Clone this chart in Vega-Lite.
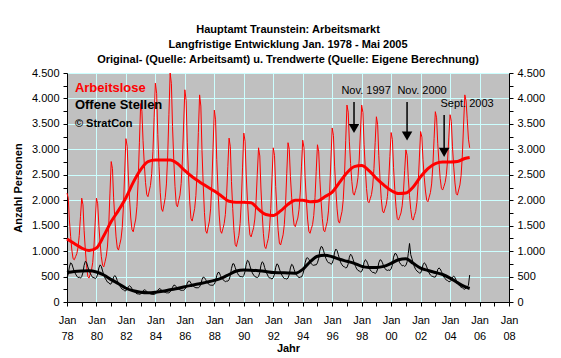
{
"$schema": "https://vega.github.io/schema/vega-lite/v6.json",
"width": 442, "height": 229,
"autosize": "none",
"padding": {"left": 67, "top": 73, "right": 52, "bottom": 56},
"background": "white",
"config": {"font": "Liberation Sans", "view": {"fill": "#C0C0C0", "stroke": "#808080", "strokeWidth": 1}},
"title": {"text": ["Hauptamt Traunstein: Arbeitsmarkt", "Langfristige Entwicklung Jan. 1978 - Mai 2005", "Original- (Quelle: Arbeitsamt) u. Trendwerte (Quelle: Eigene Berechnung)"], "fontSize": 11, "fontWeight": "bold", "lineHeight": 15, "anchor": "middle", "offset": 2, "color": "black"},
"datasets": {
"raw": [
{"date":"1978-01","a":2140,"o":480},{"date":"1978-02","a":2040,"o":550},{"date":"1978-03","a":1610,"o":690},{"date":"1978-04","a":1290,"o":770},{"date":"1978-05","a":1020,"o":750},{"date":"1978-06","a":850,"o":670},{"date":"1978-07","a":830,"o":600},{"date":"1978-08","a":890,"o":550},{"date":"1978-09","a":950,"o":510},{"date":"1978-10","a":1070,"o":480},{"date":"1978-11","a":1310,"o":490},{"date":"1978-12","a":1680,"o":470},
{"date":"1979-01","a":2040,"o":500},{"date":"1979-02","a":1910,"o":580},{"date":"1979-03","a":1410,"o":720},{"date":"1979-04","a":1020,"o":800},{"date":"1979-05","a":710,"o":780},{"date":"1979-06","a":500,"o":690},{"date":"1979-07","a":470,"o":620},{"date":"1979-08","a":550,"o":560},{"date":"1979-09","a":630,"o":520},{"date":"1979-10","a":780,"o":480},{"date":"1979-11","a":1100,"o":480},{"date":"1979-12","a":1570,"o":460},
{"date":"1980-01","a":2040,"o":480},{"date":"1980-02","a":1930,"o":550},{"date":"1980-03","a":1500,"o":670},{"date":"1980-04","a":1160,"o":730},{"date":"1980-05","a":890,"o":700},{"date":"1980-06","a":720,"o":610},{"date":"1980-07","a":690,"o":530},{"date":"1980-08","a":790,"o":470},{"date":"1980-09","a":900,"o":430},{"date":"1980-10","a":1100,"o":390},{"date":"1980-11","a":1520,"o":380},{"date":"1980-12","a":2140,"o":350},
{"date":"1981-01","a":2760,"o":360},{"date":"1981-02","a":2620,"o":410},{"date":"1981-03","a":2060,"o":490},{"date":"1981-04","a":1630,"o":520},{"date":"1981-05","a":1280,"o":490},{"date":"1981-06","a":1060,"o":420},{"date":"1981-07","a":1020,"o":360},{"date":"1981-08","a":1130,"o":320},{"date":"1981-09","a":1240,"o":280},{"date":"1981-10","a":1460,"o":250},{"date":"1981-11","a":1900,"o":240},{"date":"1981-12","a":2550,"o":220},
{"date":"1982-01","a":3210,"o":220},{"date":"1982-02","a":3060,"o":250},{"date":"1982-03","a":2480,"o":300},{"date":"1982-04","a":2020,"o":320},{"date":"1982-05","a":1650,"o":300},{"date":"1982-06","a":1420,"o":260},{"date":"1982-07","a":1380,"o":220},{"date":"1982-08","a":1510,"o":200},{"date":"1982-09","a":1630,"o":180},{"date":"1982-10","a":1880,"o":160},{"date":"1982-11","a":2390,"o":160},{"date":"1982-12","a":3140,"o":150},
{"date":"1983-01","a":3900,"o":160},{"date":"1983-02","a":3750,"o":180},{"date":"1983-03","a":3170,"o":220},{"date":"1983-04","a":2710,"o":240},{"date":"1983-05","a":2350,"o":230},{"date":"1983-06","a":2110,"o":210},{"date":"1983-07","a":2070,"o":180},{"date":"1983-08","a":2180,"o":170},{"date":"1983-09","a":2290,"o":160},{"date":"1983-10","a":2520,"o":150},{"date":"1983-11","a":2960,"o":150},{"date":"1983-12","a":3630,"o":150},
{"date":"1984-01","a":4300,"o":160},{"date":"1984-02","a":4100,"o":180},{"date":"1984-03","a":3290,"o":230},{"date":"1984-04","a":2660,"o":260},{"date":"1984-05","a":2150,"o":260},{"date":"1984-06","a":1830,"o":230},{"date":"1984-07","a":1780,"o":210},{"date":"1984-08","a":1910,"o":200},{"date":"1984-09","a":2050,"o":190},{"date":"1984-10","a":2320,"o":180},{"date":"1984-11","a":2870,"o":180},{"date":"1984-12","a":3680,"o":180},
{"date":"1985-01","a":4500,"o":200},{"date":"1985-02","a":4290,"o":230},{"date":"1985-03","a":3450,"o":290},{"date":"1985-04","a":2790,"o":330},{"date":"1985-05","a":2270,"o":330},{"date":"1985-06","a":1920,"o":300},{"date":"1985-07","a":1870,"o":270},{"date":"1985-08","a":1990,"o":250},{"date":"1985-09","a":2100,"o":240},{"date":"1985-10","a":2330,"o":230},{"date":"1985-11","a":2790,"o":230},{"date":"1985-12","a":3480,"o":230},
{"date":"1986-01","a":4170,"o":250},{"date":"1986-02","a":3960,"o":290},{"date":"1986-03","a":3140,"o":370},{"date":"1986-04","a":2490,"o":410},{"date":"1986-05","a":1980,"o":410},{"date":"1986-06","a":1640,"o":370},{"date":"1986-07","a":1590,"o":330},{"date":"1986-08","a":1710,"o":310},{"date":"1986-09","a":1840,"o":290},{"date":"1986-10","a":2090,"o":280},{"date":"1986-11","a":2580,"o":280},{"date":"1986-12","a":3330,"o":280},
{"date":"1987-01","a":4070,"o":300},{"date":"1987-02","a":3850,"o":350},{"date":"1987-03","a":2980,"o":440},{"date":"1987-04","a":2300,"o":490},{"date":"1987-05","a":1760,"o":480},{"date":"1987-06","a":1400,"o":440},{"date":"1987-07","a":1350,"o":390},{"date":"1987-08","a":1470,"o":360},{"date":"1987-09","a":1590,"o":340},{"date":"1987-10","a":1830,"o":330},{"date":"1987-11","a":2320,"o":330},{"date":"1987-12","a":3040,"o":330},
{"date":"1988-01","a":3770,"o":350},{"date":"1988-02","a":3580,"o":410},{"date":"1988-03","a":2800,"o":520},{"date":"1988-04","a":2200,"o":580},{"date":"1988-05","a":1710,"o":580},{"date":"1988-06","a":1400,"o":520},{"date":"1988-07","a":1350,"o":470},{"date":"1988-08","a":1440,"o":440},{"date":"1988-09","a":1540,"o":420},{"date":"1988-10","a":1720,"o":400},{"date":"1988-11","a":2100,"o":410},{"date":"1988-12","a":2660,"o":410},
{"date":"1989-01","a":3220,"o":440},{"date":"1989-02","a":3050,"o":520},{"date":"1989-03","a":2370,"o":660},{"date":"1989-04","a":1840,"o":750},{"date":"1989-05","a":1410,"o":750},{"date":"1989-06","a":1130,"o":680},{"date":"1989-07","a":1090,"o":610},{"date":"1989-08","a":1200,"o":560},{"date":"1989-09","a":1310,"o":520},{"date":"1989-10","a":1540,"o":500},{"date":"1989-11","a":1980,"o":500},{"date":"1989-12","a":2650,"o":490},
{"date":"1990-01","a":3320,"o":520},{"date":"1990-02","a":3160,"o":600},{"date":"1990-03","a":2500,"o":740},{"date":"1990-04","a":1990,"o":820},{"date":"1990-05","a":1590,"o":800},{"date":"1990-06","a":1320,"o":710},{"date":"1990-07","a":1280,"o":630},{"date":"1990-08","a":1370,"o":570},{"date":"1990-09","a":1460,"o":530},{"date":"1990-10","a":1630,"o":500},{"date":"1990-11","a":1980,"o":490},{"date":"1990-12","a":2510,"o":480},
{"date":"1991-01","a":3030,"o":500},{"date":"1991-02","a":2870,"o":580},{"date":"1991-03","a":2240,"o":720},{"date":"1991-04","a":1740,"o":790},{"date":"1991-05","a":1350,"o":770},{"date":"1991-06","a":1090,"o":680},{"date":"1991-07","a":1050,"o":600},{"date":"1991-08","a":1150,"o":550},{"date":"1991-09","a":1250,"o":500},{"date":"1991-10","a":1450,"o":470},{"date":"1991-11","a":1840,"o":470},{"date":"1991-12","a":2440,"o":450},
{"date":"1992-01","a":3030,"o":480},{"date":"1992-02","a":2880,"o":550},{"date":"1992-03","a":2270,"o":680},{"date":"1992-04","a":1790,"o":750},{"date":"1992-05","a":1410,"o":730},{"date":"1992-06","a":1160,"o":650},{"date":"1992-07","a":1120,"o":580},{"date":"1992-08","a":1220,"o":530},{"date":"1992-09","a":1320,"o":490},{"date":"1992-10","a":1520,"o":460},{"date":"1992-11","a":1920,"o":460},{"date":"1992-12","a":2530,"o":450},
{"date":"1993-01","a":3130,"o":470},{"date":"1993-02","a":3000,"o":540},{"date":"1993-03","a":2470,"o":670},{"date":"1993-04","a":2060,"o":740},{"date":"1993-05","a":1730,"o":720},{"date":"1993-06","a":1510,"o":640},{"date":"1993-07","a":1480,"o":570},{"date":"1993-08","a":1570,"o":530},{"date":"1993-09","a":1650,"o":500},{"date":"1993-10","a":1820,"o":480},{"date":"1993-11","a":2160,"o":490},{"date":"1993-12","a":2670,"o":490},
{"date":"1994-01","a":3180,"o":540},{"date":"1994-02","a":3030,"o":630},{"date":"1994-03","a":2450,"o":770},{"date":"1994-04","a":1990,"o":860},{"date":"1994-05","a":1630,"o":870},{"date":"1994-06","a":1390,"o":840},{"date":"1994-07","a":1350,"o":790},{"date":"1994-08","a":1440,"o":750},{"date":"1994-09","a":1520,"o":730},{"date":"1994-10","a":1700,"o":720},{"date":"1994-11","a":2050,"o":730},{"date":"1994-12","a":2570,"o":730},
{"date":"1995-01","a":3090,"o":770},{"date":"1995-02","a":2950,"o":860},{"date":"1995-03","a":2410,"o":1020},{"date":"1995-04","a":1980,"o":1090},{"date":"1995-05","a":1640,"o":1080},{"date":"1995-06","a":1410,"o":1010},{"date":"1995-07","a":1380,"o":920},{"date":"1995-08","a":1480,"o":850},{"date":"1995-09","a":1580,"o":800},{"date":"1995-10","a":1790,"o":770},{"date":"1995-11","a":2200,"o":770},{"date":"1995-12","a":2810,"o":740},
{"date":"1996-01","a":3420,"o":760},{"date":"1996-02","a":3270,"o":840},{"date":"1996-03","a":2670,"o":980},{"date":"1996-04","a":2200,"o":1040},{"date":"1996-05","a":1830,"o":1010},{"date":"1996-06","a":1590,"o":930},{"date":"1996-07","a":1550,"o":840},{"date":"1996-08","a":1670,"o":770},{"date":"1996-09","a":1780,"o":730},{"date":"1996-10","a":2010,"o":700},{"date":"1996-11","a":2480,"o":690},{"date":"1996-12","a":3170,"o":670},
{"date":"1997-01","a":3870,"o":680},{"date":"1997-02","a":3730,"o":750},{"date":"1997-03","a":3160,"o":880},{"date":"1997-04","a":2720,"o":940},{"date":"1997-05","a":2370,"o":910},{"date":"1997-06","a":2140,"o":840},{"date":"1997-07","a":2100,"o":760},{"date":"1997-08","a":2190,"o":700},{"date":"1997-09","a":2280,"o":650},{"date":"1997-10","a":2450,"o":620},{"date":"1997-11","a":2810,"o":610},{"date":"1997-12","a":3340,"o":590},
{"date":"1998-01","a":3870,"o":600},{"date":"1998-02","a":3720,"o":660},{"date":"1998-03","a":3100,"o":780},{"date":"1998-04","a":2620,"o":830},{"date":"1998-05","a":2230,"o":810},{"date":"1998-06","a":1980,"o":750},{"date":"1998-07","a":1950,"o":680},{"date":"1998-08","a":2030,"o":630},{"date":"1998-09","a":2110,"o":600},{"date":"1998-10","a":2280,"o":580},{"date":"1998-11","a":2620,"o":580},{"date":"1998-12","a":3130,"o":560},
{"date":"1999-01","a":3640,"o":580},{"date":"1999-02","a":3490,"o":650},{"date":"1999-03","a":2880,"o":770},{"date":"1999-04","a":2410,"o":830},{"date":"1999-05","a":2030,"o":820},{"date":"1999-06","a":1790,"o":770},{"date":"1999-07","a":1750,"o":700},{"date":"1999-08","a":1830,"o":660},{"date":"1999-09","a":1910,"o":630},{"date":"1999-10","a":2070,"o":620},{"date":"1999-11","a":2380,"o":630},{"date":"1999-12","a":2860,"o":620},
{"date":"2000-01","a":3330,"o":650},{"date":"2000-02","a":3190,"o":730},{"date":"2000-03","a":2640,"o":880},{"date":"2000-04","a":2210,"o":950},{"date":"2000-05","a":1870,"o":950},{"date":"2000-06","a":1640,"o":900},{"date":"2000-07","a":1610,"o":830},{"date":"2000-08","a":1680,"o":770},{"date":"2000-09","a":1750,"o":740},{"date":"2000-10","a":1890,"o":710},{"date":"2000-11","a":2160,"o":720},{"date":"2000-12","a":2580,"o":700},
{"date":"2001-01","a":2990,"o":720},{"date":"2001-02","a":2880,"o":790},{"date":"2001-03","a":2440,"o":950},{"date":"2001-04","a":2090,"o":1150},{"date":"2001-05","a":1820,"o":930},{"date":"2001-06","a":1640,"o":850},{"date":"2001-07","a":1610,"o":760},{"date":"2001-08","a":1700,"o":690},{"date":"2001-09","a":1780,"o":640},{"date":"2001-10","a":1960,"o":610},{"date":"2001-11","a":2310,"o":590},{"date":"2001-12","a":2830,"o":570},
{"date":"2002-01","a":3350,"o":570},{"date":"2002-02","a":3240,"o":630},{"date":"2002-03","a":2800,"o":730},{"date":"2002-04","a":2450,"o":770},{"date":"2002-05","a":2180,"o":750},{"date":"2002-06","a":2000,"o":690},{"date":"2002-07","a":1970,"o":620},{"date":"2002-08","a":2060,"o":570},{"date":"2002-09","a":2150,"o":530},{"date":"2002-10","a":2320,"o":510},{"date":"2002-11","a":2680,"o":500},{"date":"2002-12","a":3210,"o":490},
{"date":"2003-01","a":3740,"o":490},{"date":"2003-02","a":3620,"o":540},{"date":"2003-03","a":3120,"o":640},{"date":"2003-04","a":2740,"o":670},{"date":"2003-05","a":2430,"o":650},{"date":"2003-06","a":2230,"o":600},{"date":"2003-07","a":2200,"o":540},{"date":"2003-08","a":2270,"o":490},{"date":"2003-09","a":2350,"o":460},{"date":"2003-10","a":2500,"o":430},{"date":"2003-11","a":2790,"o":420},{"date":"2003-12","a":3240,"o":400},
{"date":"2004-01","a":3680,"o":400},{"date":"2004-02","a":3550,"o":430},{"date":"2004-03","a":3050,"o":490},{"date":"2004-04","a":2650,"o":510},{"date":"2004-05","a":2340,"o":480},{"date":"2004-06","a":2130,"o":430},{"date":"2004-07","a":2100,"o":380},{"date":"2004-08","a":2200,"o":340},{"date":"2004-09","a":2300,"o":310},{"date":"2004-10","a":2490,"o":290},{"date":"2004-11","a":2890,"o":280},{"date":"2004-12","a":3480,"o":260},
{"date":"2005-01","a":4070,"o":250},{"date":"2005-02","a":3950,"o":280},{"date":"2005-03","a":3600,"o":300},{"date":"2005-04","a":3200,"o":330},{"date":"2005-05","a":3030,"o":530}
],
"trend": [
{"date":"1978-01","a":1240,"o":580},{"date":"1978-07","a":1150,"o":600},{"date":"1979-01","a":1060,"o":610},{"date":"1979-07","a":1010,"o":615},{"date":"1980-01","a":1060,"o":590},{"date":"1980-07","a":1300,"o":530},{"date":"1981-01","a":1580,"o":440},{"date":"1981-07","a":1800,"o":360},{"date":"1982-01","a":2050,"o":270},{"date":"1982-07","a":2350,"o":220},{"date":"1983-01","a":2600,"o":190},{"date":"1983-07","a":2760,"o":180},{"date":"1984-01","a":2790,"o":190},{"date":"1984-07","a":2790,"o":210},{"date":"1985-01","a":2790,"o":240},{"date":"1985-07","a":2720,"o":265},{"date":"1986-01","a":2580,"o":300},{"date":"1986-07","a":2460,"o":330},{"date":"1987-01","a":2360,"o":360},{"date":"1987-07","a":2270,"o":390},{"date":"1988-01","a":2180,"o":425},{"date":"1988-07","a":2080,"o":470},{"date":"1989-01","a":1980,"o":540},{"date":"1989-07","a":1960,"o":610},{"date":"1990-01","a":1960,"o":630},{"date":"1990-07","a":1950,"o":625},{"date":"1991-01","a":1820,"o":615},{"date":"1991-07","a":1720,"o":600},{"date":"1992-01","a":1700,"o":580},{"date":"1992-07","a":1790,"o":575},{"date":"1993-01","a":1920,"o":570},{"date":"1993-07","a":2000,"o":565},{"date":"1994-01","a":2000,"o":640},{"date":"1994-07","a":1970,"o":790},{"date":"1995-01","a":1980,"o":900},{"date":"1995-07","a":2070,"o":920},{"date":"1996-01","a":2160,"o":890},{"date":"1996-07","a":2350,"o":840},{"date":"1997-01","a":2540,"o":800},{"date":"1997-07","a":2660,"o":760},{"date":"1998-01","a":2680,"o":700},{"date":"1998-07","a":2580,"o":680},{"date":"1999-01","a":2430,"o":680},{"date":"1999-07","a":2300,"o":700},{"date":"2000-01","a":2190,"o":760},{"date":"2000-07","a":2130,"o":830},{"date":"2001-01","a":2140,"o":850},{"date":"2001-07","a":2260,"o":760},{"date":"2002-01","a":2460,"o":665},{"date":"2002-07","a":2620,"o":620},{"date":"2003-01","a":2720,"o":580},{"date":"2003-07","a":2750,"o":540},{"date":"2004-01","a":2750,"o":470},{"date":"2004-07","a":2760,"o":380},{"date":"2005-01","a":2820,"o":300},{"date":"2005-05","a":2840,"o":265}
],
"arrows": [
{"date":"1997-06-25","top":3930,"bottom":3470,"head":3410},
{"date":"2001-01-30","top":3930,"bottom":3320,"head":3262},
{"date":"2003-08-07","top":3675,"bottom":3000,"head":2940}
],
"notes": [
{"date":"1998-04-20","value":4146,"label":"Nov. 1997"},
{"date":"2002-02-06","value":4146,"label":"Nov. 2000"},
{"date":"2005-02-25","value":3891,"label":"Sept. 2003"}
]
},
"encoding": {
"x": {"field": "date", "type": "temporal",
 "scale": {"type": "utc", "domain": [{"year":1978,"month":1,"date":1,"utc":true},{"year":2008,"month":1,"date":1,"utc":true}]},
 "axis": {
  "values": [{"year":1978,"month":1,"date":1,"utc":true},{"year":1979,"month":1,"date":1,"utc":true},{"year":1980,"month":1,"date":1,"utc":true},{"year":1981,"month":1,"date":1,"utc":true},{"year":1982,"month":1,"date":1,"utc":true},{"year":1983,"month":1,"date":1,"utc":true},{"year":1984,"month":1,"date":1,"utc":true},{"year":1985,"month":1,"date":1,"utc":true},{"year":1986,"month":1,"date":1,"utc":true},{"year":1987,"month":1,"date":1,"utc":true},{"year":1988,"month":1,"date":1,"utc":true},{"year":1989,"month":1,"date":1,"utc":true},{"year":1990,"month":1,"date":1,"utc":true},{"year":1991,"month":1,"date":1,"utc":true},{"year":1992,"month":1,"date":1,"utc":true},{"year":1993,"month":1,"date":1,"utc":true},{"year":1994,"month":1,"date":1,"utc":true},{"year":1995,"month":1,"date":1,"utc":true},{"year":1996,"month":1,"date":1,"utc":true},{"year":1997,"month":1,"date":1,"utc":true},{"year":1998,"month":1,"date":1,"utc":true},{"year":1999,"month":1,"date":1,"utc":true},{"year":2000,"month":1,"date":1,"utc":true},{"year":2001,"month":1,"date":1,"utc":true},{"year":2002,"month":1,"date":1,"utc":true},{"year":2003,"month":1,"date":1,"utc":true},{"year":2004,"month":1,"date":1,"utc":true},{"year":2005,"month":1,"date":1,"utc":true},{"year":2006,"month":1,"date":1,"utc":true},{"year":2007,"month":1,"date":1,"utc":true},{"year":2008,"month":1,"date":1,"utc":true}],
  "labelExpr": "utcyear(datum.value) % 2 == 0 ? ['Jan', utcFormat(datum.value, '%y')] : ''",
  "title": "Jahr", "titleFontWeight": "bold", "titleFontSize": 11, "titlePadding": 1, "titleColor": "black",
  "labelFontSize": 11, "labelLineHeight": 16, "labelPadding": 8, "labelColor": "black",
  "labelFlush": false, "labelOverlap": false, "labelBound": false,
  "domainColor": "black", "tickColor": "black", "tickSize": 4,
  "grid": true, "gridColor": "#CCFFFF", "gridWidth": 1,
  "gridOpacity": {"condition": {"test": "utcyear(datum.value) % 2 == 0", "value": 1}, "value": 0}
 }
}
},
"resolve": {"axis": {"y": "independent"}},
"layer": [
{"data": {"name": "raw"}, "mark": {"type": "line", "color": "#FF0000", "strokeWidth": 1},
 "encoding": {"y": {"field": "a", "type": "quantitative", "scale": {"domain": [0, 4500], "nice": false},
  "axis": {"values": [0,250,500,750,1000,1250,1500,1750,2000,2250,2500,2750,3000,3250,3500,3750,4000,4250,4500],
   "labelExpr": "datum.value % 500 == 0 ? replace(format(datum.value, ','), ',', '.') : ''",
   "title": "Anzahl Personen", "titleFontWeight": "bold", "titleFontSize": 11, "titlePadding": 8, "titleColor": "black",
   "labelFontSize": 11, "labelPadding": 4, "labelColor": "black", "labelBound": false, "labelFlush": false, "labelOverlap": false,
   "tickSize": 4, "tickColor": "black", "domainColor": "black",
   "grid": true, "gridColor": "#CCFFFF", "gridWidth": 1,
   "gridOpacity": {"condition": {"test": "datum.value % 500 == 0", "value": 1}, "value": 0}}}}},
{"data": {"name": "raw"}, "mark": {"type": "line", "color": "black", "strokeWidth": 1},
 "encoding": {"y": {"field": "o", "type": "quantitative", "scale": {"domain": [0, 4500], "nice": false}, "axis": null}}},
{"data": {"name": "trend"}, "mark": {"type": "line", "color": "#FF0000", "strokeWidth": 3, "interpolate": "monotone"},
 "encoding": {"y": {"field": "a", "type": "quantitative", "scale": {"domain": [0, 4500], "nice": false},
  "axis": {"orient": "right", "values": [0,250,500,750,1000,1250,1500,1750,2000,2250,2500,2750,3000,3250,3500,3750,4000,4250,4500],
   "labelExpr": "datum.value % 500 == 0 ? replace(format(datum.value, ','), ',', '.') : ''",
   "title": null, "labelFontSize": 11, "labelPadding": 4, "labelColor": "black", "labelBound": false, "labelFlush": false, "labelOverlap": false,
   "tickSize": 4, "tickColor": "black", "domainColor": "black", "grid": false}}}},
{"data": {"name": "trend"}, "mark": {"type": "line", "color": "black", "strokeWidth": 3, "interpolate": "monotone"},
 "encoding": {"y": {"field": "o", "type": "quantitative", "scale": {"domain": [0, 4500], "nice": false}, "axis": null}}},
{"data": {"name": "arrows"}, "mark": {"type": "rule", "color": "black", "strokeWidth": 1.5},
 "encoding": {"y": {"field": "top", "type": "quantitative", "scale": {"domain": [0, 4500], "nice": false}, "axis": null}, "y2": {"field": "bottom"}}},
{"data": {"name": "arrows"}, "mark": {"type": "point", "shape": "triangle-down", "filled": true, "color": "black", "opacity": 1, "size": 110},
 "encoding": {"y": {"field": "head", "type": "quantitative", "scale": {"domain": [0, 4500], "nice": false}, "axis": null}}},
{"data": {"name": "notes"}, "mark": {"type": "text", "fontSize": 11, "color": "black", "align": "center", "baseline": "middle"},
 "encoding": {"y": {"field": "value", "type": "quantitative", "scale": {"domain": [0, 4500], "nice": false}, "axis": null}, "text": {"field": "label"}}},
{"data": {"values": [{"date":"1978-07-16","value":4200,"label":"Arbeitslose"}]}, "mark": {"type": "text", "fontSize": 13, "fontWeight": "bold", "color": "#FF0000", "align": "left", "baseline": "middle"},
 "encoding": {"y": {"field": "value", "type": "quantitative", "scale": {"domain": [0, 4500], "nice": false}, "axis": null}, "text": {"field": "label"}}},
{"data": {"values": [{"date":"1978-07-16","value":3880,"label":"Offene Stellen"}]}, "mark": {"type": "text", "fontSize": 13, "fontWeight": "bold", "color": "black", "align": "left", "baseline": "middle"},
 "encoding": {"y": {"field": "value", "type": "quantitative", "scale": {"domain": [0, 4500], "nice": false}, "axis": null}, "text": {"field": "label"}}},
{"data": {"values": [{"date":"1978-07-16","value":3500,"label":"© StratCon"}]}, "mark": {"type": "text", "fontSize": 11, "fontWeight": "bold", "color": "black", "align": "left", "baseline": "middle"},
 "encoding": {"y": {"field": "value", "type": "quantitative", "scale": {"domain": [0, 4500], "nice": false}, "axis": null}, "text": {"field": "label"}}}
]
}
